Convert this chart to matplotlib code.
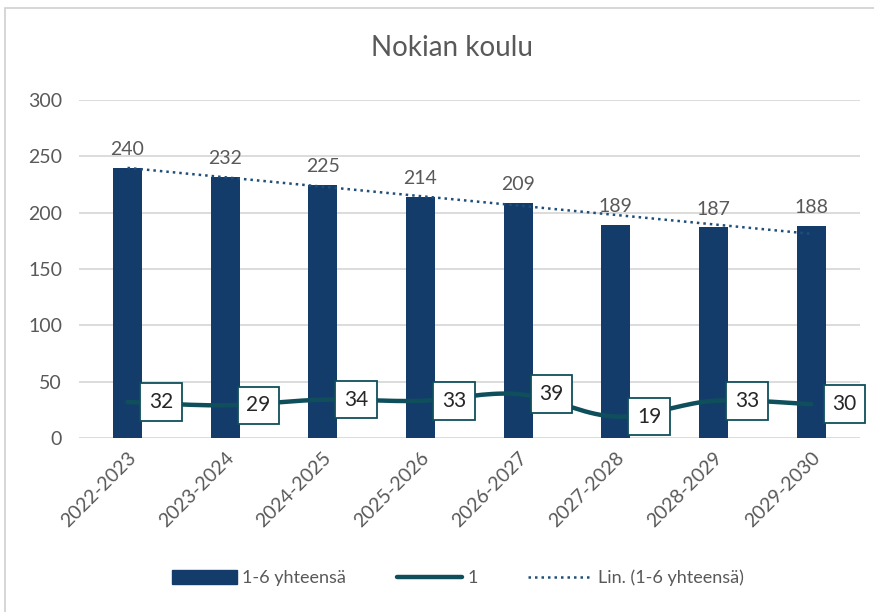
import matplotlib
matplotlib.use("Agg")
import matplotlib.pyplot as plt
import numpy as np
from matplotlib.patches import Rectangle
from matplotlib.lines import Line2D

years = ["2022-2023", "2023-2024", "2024-2025", "2025-2026",
         "2026-2027", "2027-2028", "2028-2029", "2029-2030"]
total = [240, 232, 225, 214, 209, 189, 187, 188]
grade1 = [32, 29, 34, 33, 39, 19, 33, 30]

BAR = "#133C6A"
LINE = "#0F4F5C"
TREND = "#1F4E79"
TXT = "#595959"
GRID = "#D9D9D9"

plt.rcParams["font.family"] = ["Lato", "DejaVu Sans"]


def smooth(xs, ys, n=20):
    # catmull-rom, roughly like Excel's smoothed line
    xs, ys = np.asarray(xs, float), np.asarray(ys, float)
    px = np.r_[xs[0], xs, xs[-1]]
    py = np.r_[ys[0], ys, ys[-1]]
    ox, oy = [], []
    t = np.linspace(0, 1, n)
    for i in range(1, len(px) - 2):
        for p, o in ((px, ox), (py, oy)):
            p0, p1, p2, p3 = p[i - 1], p[i], p[i + 1], p[i + 2]
            o.extend(0.5 * (2 * p1 + (-p0 + p2) * t
                            + (2 * p0 - 5 * p1 + 4 * p2 - p3) * t ** 2
                            + (-p0 + 3 * p1 - 3 * p2 + p3) * t ** 3))
    return ox, oy


fig = plt.figure(figsize=(8.74, 6.12), dpi=100)
fig.patches.append(Rectangle((5 / 874, -0.1), 1.2, 1 - 8 / 612 + 0.1,
                             transform=fig.transFigure, fill=False,
                             edgecolor="#D0D0D0", lw=1.2))
ax = fig.add_axes([0.09, 0.2843, 0.894, 0.5523])

x = np.arange(len(years))
ax.bar(x, total, width=0.3, color=BAR, zorder=2)
for xi, v in zip(x, total):
    ax.annotate(str(v), (xi, v), xytext=(0, 7), textcoords="offset points",
                ha="center", va="bottom", fontsize=14, color=TXT)

k, b = np.polyfit(x, total, 1)
ax.plot(x[[0, -1]], k * x[[0, -1]] + b, color=TREND, lw=1.8,
        ls=(0, (1, 1.6)), zorder=3)

sx, sy = smooth(x, grade1)
ax.plot(sx, sy, color=LINE, lw=3.2, solid_capstyle="round", zorder=4)
for xi, v in zip(x, grade1):
    ax.annotate(str(v), (xi, v), xytext=(24, 0), textcoords="offset points",
                ha="center", va="center", fontsize=15, color="#262626",
                bbox=dict(boxstyle="square,pad=0.42", fc="white", ec=LINE, lw=1.3),
                zorder=5)

ax.set_xlim(-0.5, len(years) - 0.5)
ax.set_ylim(0, 300)
ax.set_yticks(range(0, 301, 50))
ax.yaxis.grid(True, color=GRID, lw=1.3, zorder=0)
ax.set_axisbelow(True)
for s in ax.spines.values():
    s.set_visible(False)
ax.tick_params(length=0, labelsize=14, labelcolor=TXT, pad=12)
ax.set_xticks(x)
ax.set_xticklabels(years, rotation=45, ha="right", rotation_mode="anchor")
ax.tick_params(axis="x", pad=8)

fig.text(452 / 874, 1 - 48 / 612, "Nokian koulu", ha="center", va="center",
         fontsize=20, color=TXT)

handles = [Rectangle((0, 0), 1, 1, color=BAR),
           Line2D([], [], color=LINE, lw=3.2, solid_capstyle="round"),
           Line2D([], [], color=TREND, lw=1.8, ls=(0, (1, 1.6)))]
fig.legend(handles, ["1-6 yhteensä", "1", "Lin. (1-6 yhteensä)"],
           loc="center", bbox_to_anchor=(458 / 874, 1 - 578 / 612), ncol=3,
           frameon=False, fontsize=13, labelcolor=TXT, handlelength=3.6,
           handleheight=0.8, columnspacing=2.8, handletextpad=0.3)

fig.savefig("out.png", dpi=100)
